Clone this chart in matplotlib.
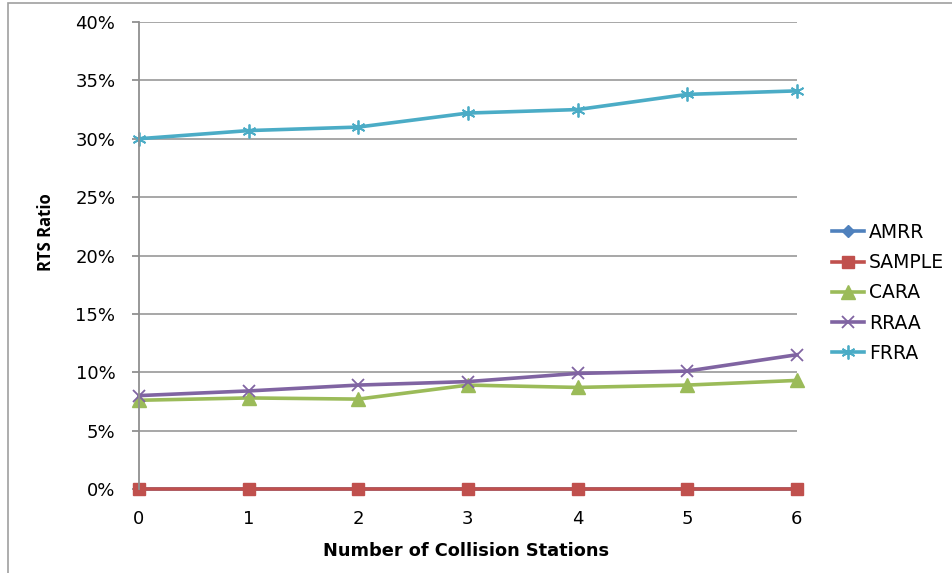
import numpy as np
import matplotlib.pyplot as plt
from matplotlib.patches import Rectangle
from matplotlib.ticker import PercentFormatter

# RTS ratio per rate-adaptation scheme vs. number of collision stations
stations = [0, 1, 2, 3, 4, 5, 6]
amrr = [0.0, 0.0, 0.0, 0.0, 0.0, 0.0, 0.0]
sample = [0.0, 0.0, 0.0, 0.0, 0.0, 0.0, 0.0]
cara = [7.6, 7.8, 7.7, 8.9, 8.7, 8.9, 9.3]
rraa = [8.0, 8.4, 8.9, 9.2, 9.9, 10.1, 11.5]
frra = [30.0, 30.7, 31.0, 32.2, 32.5, 33.8, 34.1]

plt.rcParams['font.family'] = 'DejaVu Sans'

fig = plt.figure(figsize=(9.52, 5.73), dpi=100)
ax = fig.add_axes([0.146, 0.1466, 0.691, 0.815])

common = dict(lw=2.6, clip_on=False)
ax.plot(stations, amrr, color='#4F81BD', marker='D', ms=6, label='AMRR', **common)
ax.plot(stations, sample, color='#C0504D', marker='s', ms=8.5, label='SAMPLE', **common)
ax.plot(stations, cara, color='#9BBB59', marker='^', ms=10, label='CARA', **common)
ax.plot(stations, rraa, color='#8064A2', marker='x', ms=8, mew=1.3, label='RRAA', **common)
ax.plot(stations, frra, color='#4BACC6', marker=(6, 2, 0), ms=10, mew=1.3, label='FRRA', **common)

ax.set_xlim(0, 6)
ax.set_ylim(0, 40)
ax.set_yticks(np.arange(0, 41, 5))
ax.yaxis.set_major_formatter(PercentFormatter(decimals=0))
ax.set_xticks(stations)
ax.grid(axis='y', color='#A0A0A0', lw=1.3)
ax.set_axisbelow(True)

for s in ['top', 'right', 'bottom']:
    ax.spines[s].set_visible(False)
ax.spines['left'].set_color('#909090')
ax.spines['left'].set_linewidth(1.3)
ax.tick_params(axis='y', length=5, color='#909090', width=1.3, labelsize=13, pad=12)
ax.tick_params(axis='x', length=0, labelsize=13, pad=15)

ax.set_xlabel('Number of Collision Stations', fontsize=12.8, fontweight='bold')
ax.xaxis.set_label_coords(0.497, -0.114)
ax.set_ylabel('RTS Ratio', fontsize=12, fontweight='bold', family='Open Sans')
ax.yaxis.set_label_coords(-0.127, 0.55)

leg = ax.legend(loc='center left', bbox_to_anchor=(1.0274, 0.42), frameon=False,
                fontsize=13.5, handlelength=1.7, labelspacing=0.6, handletextpad=0.3)

# outer chart frame
fig.patches.append(Rectangle((8 / 952, -0.1), 1.2, 1 - 3 / 573 + 0.1,
                             transform=fig.transFigure, fill=False,
                             edgecolor='#A0A0A0', lw=1.2))

fig.savefig('out.png', dpi=100)
